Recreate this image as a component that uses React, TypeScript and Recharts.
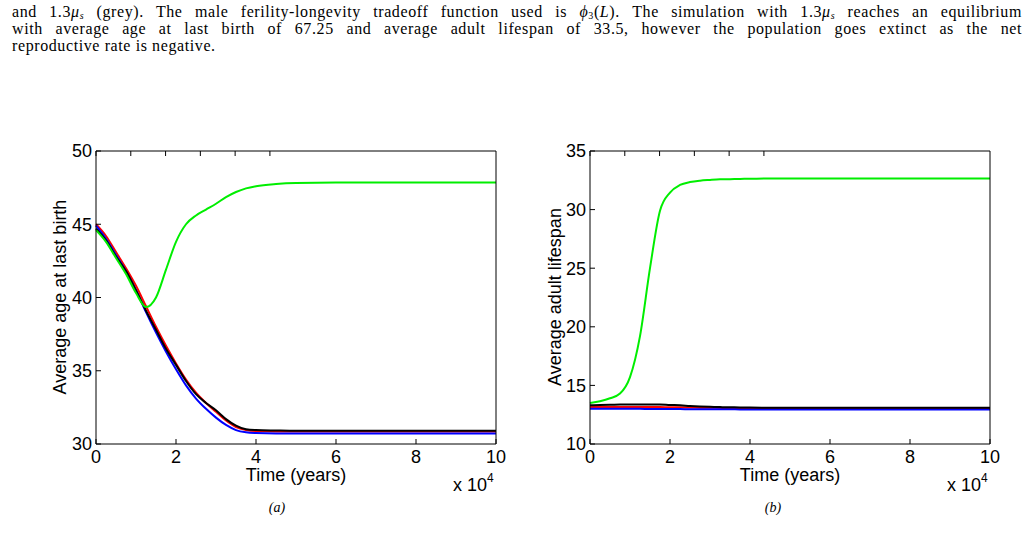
import React from "react";
import { LineChart, Line, XAxis, YAxis } from "recharts";

// time in units of 10^4 years
const time = [0, 0.25, 0.5, 0.75, 1, 1.25, 1.5, 1.75, 2, 2.25, 2.5, 2.75, 3, 3.25, 3.5, 3.75, 4, 4.5, 5, 6, 7, 8, 9, 10];
const timeTicks = [0, 2, 4, 6, 8, 10];

// (a) average age at last birth
const ageRed = [45.0, 44.2, 43.1, 42.0, 40.8, 39.4, 38.0, 36.7, 35.5, 34.4, 33.5, 32.8, 32.2, 31.6, 31.15, 30.95, 30.88, 30.85, 30.85, 30.85, 30.85, 30.85, 30.85, 30.85];
const ageBlack = [44.7, 43.9, 42.8, 41.8, 40.5, 39.1, 37.8, 36.5, 35.4, 34.3, 33.4, 32.8, 32.3, 31.7, 31.25, 31.0, 30.95, 30.92, 30.9, 30.9, 30.9, 30.9, 30.9, 30.9];
const ageBlue = [44.9, 44.0, 42.9, 41.8, 40.5, 39.0, 37.6, 36.3, 35.1, 34.0, 33.1, 32.4, 31.8, 31.3, 30.95, 30.8, 30.75, 30.72, 30.72, 30.72, 30.72, 30.72, 30.72, 30.72];
const ageGreen = [44.6, 43.8, 42.7, 41.6, 40.3, 39.35, 40.0, 41.9, 43.8, 45.0, 45.6, 46.0, 46.4, 46.85, 47.2, 47.45, 47.6, 47.75, 47.82, 47.85, 47.85, 47.85, 47.85, 47.85];
const ageTicks = [30, 35, 40, 45, 50];

// (b) average adult lifespan
const lifeRed = [13.15, 13.15, 13.16, 13.16, 13.16, 13.16, 13.16, 13.15, 13.14, 13.13, 13.12, 13.1, 13.09, 13.08, 13.07, 13.07, 13.06, 13.06, 13.05, 13.05, 13.05, 13.05, 13.05, 13.05];
const lifeBlack = [13.3, 13.33, 13.35, 13.37, 13.38, 13.38, 13.38, 13.37, 13.33, 13.3, 13.25, 13.21, 13.18, 13.15, 13.13, 13.12, 13.11, 13.1, 13.1, 13.1, 13.1, 13.1, 13.1, 13.1];
const lifeBlue = [13.0, 13.0, 13.0, 13.0, 13.0, 13.0, 12.99, 12.99, 12.98, 12.98, 12.97, 12.97, 12.96, 12.96, 12.96, 12.95, 12.95, 12.95, 12.95, 12.95, 12.95, 12.95, 12.95, 12.95];
const lifeGreen = [13.5, 13.65, 13.9, 14.3, 15.7, 19.2, 25.0, 29.9, 31.45, 32.1, 32.35, 32.47, 32.53, 32.58, 32.6, 32.62, 32.63, 32.65, 32.65, 32.65, 32.65, 32.65, 32.65, 32.65];
const lifeTicks = [10, 15, 20, 25, 30, 35];

const FONT = "'Liberation Sans', Arial, Helvetica, sans-serif";
const SERIF = "'Liberation Serif', 'Times New Roman', serif";
const tickStyle = { fontSize: 18, fill: "#000", fontFamily: FONT };
const blank = () => "";

type Series = { red: number[]; black: number[]; blue: number[]; green: number[] };

function Panel({ series, domain, ticks }: { series: Series; domain: [number, number]; ticks: number[] }) {
  const rows = time.map((t, i) => ({
    t,
    red: series.red[i],
    black: series.black[i],
    blue: series.blue[i],
    green: series.green[i],
  }));
  return (
    <LineChart width={480} height={380} data={rows} margin={{ top: 10, right: 20, bottom: 46, left: 0 }}>
      <XAxis
        dataKey="t"
        type="number"
        domain={[0, 10]}
        ticks={timeTicks}
        tick={tickStyle}
        tickSize={-5}
        tickMargin={11}
        height={30}
        axisLine={{ stroke: "#000" }}
        tickLine={{ stroke: "#000" }}
      />
      <XAxis
        xAxisId="top"
        orientation="top"
        type="number"
        domain={[0, 10]}
        ticks={timeTicks}
        tickFormatter={blank}
        tickSize={-5}
        height={1}
        axisLine={{ stroke: "#000" }}
        tickLine={{ stroke: "#000" }}
      />
      <YAxis
        type="number"
        domain={domain}
        ticks={ticks}
        tick={tickStyle}
        tickSize={-5}
        tickMargin={9}
        width={56}
        axisLine={{ stroke: "#000" }}
        tickLine={{ stroke: "#000" }}
      />
      <YAxis
        yAxisId="right"
        orientation="right"
        type="number"
        domain={domain}
        ticks={ticks}
        tickFormatter={blank}
        tickSize={-5}
        width={4}
        axisLine={{ stroke: "#000" }}
        tickLine={{ stroke: "#000" }}
      />
      <Line dataKey="red" type="monotone" stroke="#ff0000" strokeWidth={2} dot={false} isAnimationActive={false} />
      <Line dataKey="blue" type="monotone" stroke="#0000ff" strokeWidth={2} dot={false} isAnimationActive={false} />
      <Line dataKey="black" type="monotone" stroke="#000000" strokeWidth={2} dot={false} isAnimationActive={false} />
      <Line dataKey="green" type="monotone" stroke="#00ee00" strokeWidth={2} dot={false} isAnimationActive={false} />
    </LineChart>
  );
}

const abs = (s: React.CSSProperties): React.CSSProperties => ({ position: "absolute", ...s });

function AxisText({ left, yTitle, titleX }: { left: number; yTitle: string; titleX: number }) {
  return (
    <>
      <div style={abs({ left: left + 96, top: 466, width: 400, textAlign: "center", fontFamily: FONT, fontSize: 18, lineHeight: "18px" })}>
        Time (years)
      </div>
      <div style={abs({ left: left + 453, top: 475, fontFamily: FONT, fontSize: 18, lineHeight: "20px", whiteSpace: "nowrap" })}>
        x 10<span style={{ fontSize: 12, position: "relative", top: -9 }}>4</span>
      </div>
      <div
        style={abs({
          left: titleX - 150,
          top: 287,
          width: 300,
          textAlign: "center",
          fontFamily: FONT,
          fontSize: 18,
          lineHeight: "20px",
          transform: "rotate(-90deg)",
        })}
      >
        {yTitle}
      </div>
    </>
  );
}

const subStyle: React.CSSProperties = { fontSize: 10, verticalAlign: "-0.2em", lineHeight: 0 };

const mu = (
  <>
    1.3<i>μ</i>
    <i style={subStyle}>s</i>
  </>
);

const justified: React.CSSProperties = { textAlign: "justify", textAlignLast: "justify", height: 17 };

export default function App() {
  return (
    <div style={abs({ left: 0, top: 0, width: 1033, height: 539, background: "#fff", overflow: "hidden" })}>
      <div
        style={abs({
          left: 12,
          top: 3,
          width: 1010,
          fontFamily: SERIF,
          fontSize: 16,
          letterSpacing: 0.6,
          lineHeight: "17px",
          color: "#000",
        })}
      >
        <div style={justified}>
          and {mu} (grey). The male ferility-longevity tradeoff function used is <i>ϕ</i>
          <span style={subStyle}>3</span>(<i>L</i>). The simulation with {mu} reaches an equilibrium
        </div>
        <div style={justified}>
          with average age at last birth of 67.25 and average adult lifespan of 33.5, however the population goes extinct as the net
        </div>
        <div>reproductive rate is negative.</div>
      </div>

      <div style={abs({ left: 40, top: 140 })}>
        <Panel series={{ red: ageRed, black: ageBlack, blue: ageBlue, green: ageGreen }} domain={[30, 50]} ticks={ageTicks} />
      </div>
      <AxisText left={0} yTitle="Average age at last birth" titleX={60} />
      <div style={abs({ left: 262, top: 500, width: 30, textAlign: "center", fontFamily: SERIF, fontStyle: "italic", fontSize: 14 })}>(a)</div>

      <div style={abs({ left: 534, top: 140 })}>
        <Panel series={{ red: lifeRed, black: lifeBlack, blue: lifeBlue, green: lifeGreen }} domain={[10, 35]} ticks={lifeTicks} />
      </div>
      <AxisText left={494} yTitle="Average adult lifespan" titleX={555} />
      <div style={abs({ left: 758, top: 500, width: 30, textAlign: "center", fontFamily: SERIF, fontStyle: "italic", fontSize: 14 })}>(b)</div>
    </div>
  );
}
